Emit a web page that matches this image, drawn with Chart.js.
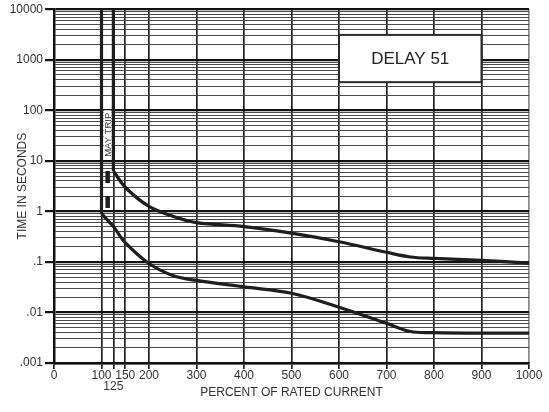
<!DOCTYPE html>
<html>
<head>
<meta charset="utf-8">
<script src="https://cdn.jsdelivr.net/npm/chart.js@4/dist/chart.umd.min.js"></script>
<style>
  html, body { margin: 0; padding: 0; background: #fff; }
  canvas { display: block; }
</style>
</head>
<body>
<canvas id="curveChart" width="549" height="412"></canvas>
<script>
// tick positions / labels
const xTicks = [0, 100, 125, 150, 200, 300, 400, 500, 600, 700, 800, 900, 1000];
const yDecades = [0.001, 0.01, 0.1, 1, 10, 100, 1000, 10000];
const yDecadeLabels = [".001", ".01", ".1", "1", "10", "100", "1000", "10000"];

// lower (minimum) trip curve
const lowerVertX = [100, 100];
const lowerVertY = [10000, 0.9];
const lowerX = [100, 125, 150, 200, 250, 300, 400, 500, 600, 700, 750, 800, 900, 1000];
const lowerY = [0.9, 0.5, 0.24, 0.093, 0.054, 0.043, 0.032, 0.024, 0.0127, 0.0061, 0.0042, 0.004, 0.0039, 0.0039];

// upper (maximum) trip curve
const upperVertX = [125, 125];
const upperVertY = [10000, 6.3];
const upperX = [125, 150, 200, 250, 300, 400, 500, 600, 700, 750, 800, 900, 1000];
const upperY = [6.3, 3.0, 1.25, 0.8, 0.6, 0.5, 0.37, 0.25, 0.155, 0.125, 0.117, 0.107, 0.095];

// "may trip" dashed segment
const dashX = [113, 113];
const dashY = [6.3, 1];

// annotation boxes (data units)
const mayTripBox = { x0: 100, x1: 125, y0: 100, y1: 10, text: "MAY TRIP" };
const delayBox = { x0: 600, x1: 900, y0: 3100, y1: 360, text: "DELAY 51" };

const FONT = "'Liberation Sans', Arial, Helvetica, sans-serif";
const INK = "#1e1e1e";

function pts(xs, ys) {
    return xs.map((x, i) => ({ x: x, y: ys[i] }));
}

function isDecade(v) {
    const l = Math.log10(v);
    return Math.abs(l - Math.round(l)) < 1e-9;
}

const overlays = {
    id: "overlays",
    beforeDatasetsDraw(chart) {
        const { ctx, scales: { x, y } } = chart;
        ctx.save();

        // white strip behind MAY TRIP
        const l = x.getPixelForValue(mayTripBox.x0) + 2;
        const r = x.getPixelForValue(mayTripBox.x1) - 2;
        const t = y.getPixelForValue(mayTripBox.y0);
        const b = y.getPixelForValue(mayTripBox.y1) - 2;
        ctx.fillStyle = "#fff";
        ctx.fillRect(l, t, r - l, b - t);
        ctx.translate((l + r) / 2 + 0.5, b - 2);
        ctx.rotate(-Math.PI / 2);
        ctx.fillStyle = "#333";
        ctx.font = "9.5px " + FONT;
        ctx.textAlign = "left";
        ctx.textBaseline = "middle";
        ctx.fillText(mayTripBox.text, 0, 0);
        ctx.restore();

        // DELAY 51 box
        ctx.save();
        const bl = x.getPixelForValue(delayBox.x0);
        const br = x.getPixelForValue(delayBox.x1);
        const bt = y.getPixelForValue(delayBox.y0);
        const bb = y.getPixelForValue(delayBox.y1);
        ctx.fillStyle = "#fff";
        ctx.fillRect(bl, bt, br - bl, bb - bt);
        ctx.strokeStyle = "#2a2a2a";
        ctx.lineWidth = 2;
        ctx.strokeRect(bl, bt, br - bl, bb - bt);
        ctx.fillStyle = "#222";
        ctx.font = "17px " + FONT;
        ctx.textAlign = "center";
        ctx.textBaseline = "middle";
        ctx.fillText(delayBox.text, (bl + br) / 2, (bt + bb) / 2 + 1);
        ctx.restore();
    }
};

const lineStyle = {
    borderColor: INK,
    borderWidth: 3.2,
    pointRadius: 0,
    fill: false
};

new Chart(document.getElementById("curveChart"), {
    type: "line",
    data: {
        datasets: [
            { ...lineStyle, data: pts(lowerVertX, lowerVertY), tension: 0 },
            { ...lineStyle, data: pts(lowerX, lowerY), tension: 0.35 },
            { ...lineStyle, data: pts(upperVertX, upperVertY), tension: 0 },
            { ...lineStyle, data: pts(upperX, upperY), tension: 0.35 },
            { ...lineStyle, data: pts(dashX, dashY), tension: 0, borderWidth: 4.5,
              borderDash: [12, 13], borderCapStyle: "butt" }
        ]
    },
    options: {
        responsive: false,
        animation: false,
        layout: { padding: { top: 9, right: 20, left: 0, bottom: 0 } },
        plugins: { legend: { display: false }, tooltip: { enabled: false } },
        scales: {
            x: {
                type: "linear",
                min: 0,
                max: 1000,
                afterBuildTicks: s => { s.ticks = xTicks.map(v => ({ value: v })); },
                afterFit: s => { s.height = 49; },
                ticks: {
                    autoSkip: false,
                    maxRotation: 0,
                    padding: 1,
                    color: "#333",
                    font: { family: FONT, size: 12, lineHeight: 0.95 },
                    callback: v => v === 125 ? ["", "125"] : String(v)
                },
                grid: {
                    color: c => (c.tick && c.tick.value === 1000) ? "#8a8a8a" : "#222",
                    lineWidth: 1.7,
                    tickLength: 6,
                    tickColor: "#222",
                    tickWidth: 1.7
                },
                border: { display: true, color: "#111", width: 2.5 },
                title: {
                    display: true,
                    text: "PERCENT OF RATED CURRENT",
                    color: "#333",
                    font: { family: FONT, size: 12 },
                    padding: { top: 0, bottom: 12 }
                }
            },
            y: {
                type: "logarithmic",
                min: 0.001,
                max: 10000,
                afterBuildTicks: s => {
                    const t = [];
                    yDecades.forEach((d, i) => {
                        const n = i === yDecades.length - 1 ? 1 : 9;
                        for (let k = 1; k <= n; k++) t.push({ value: +(d * k).toPrecision(6) });
                    });
                    s.ticks = t;
                },
                afterFit: s => { s.width = 54; },
                ticks: {
                    autoSkip: false,
                    padding: 2,
                    color: "#333",
                    font: { family: FONT, size: 12 },
                    callback: v => {
                        const i = yDecades.findIndex(d => Math.abs(d - v) / d < 1e-6);
                        return i >= 0 ? yDecadeLabels[i] : "";
                    }
                },
                grid: {
                    color: c => (c.tick && isDecade(c.tick.value)) ? "#111" : "#4a4a4a",
                    lineWidth: c => (c.tick && isDecade(c.tick.value)) ? 2.2 : 1,
                    tickLength: 9,
                    tickColor: c => (c.tick && isDecade(c.tick.value)) ? "#111" : "rgba(0,0,0,0)",
                    tickWidth: 2.2
                },
                border: { display: true, color: "#111", width: 2.5 },
                title: {
                    display: true,
                    text: "TIME IN SECONDS",
                    color: "#333",
                    font: { family: FONT, size: 12 },
                    padding: { top: 15, bottom: 0 }
                }
            }
        }
    },
    plugins: [overlays]
});
</script>
</body>
</html>
